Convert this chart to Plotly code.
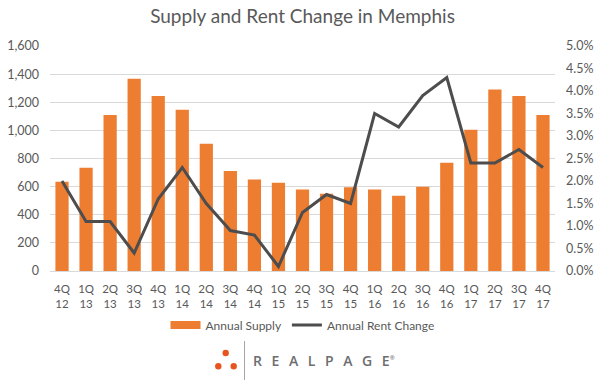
import plotly.graph_objects as go

categories = ["4Q<br>12","1Q<br>13","2Q<br>13","3Q<br>13","4Q<br>13","1Q<br>14","2Q<br>14","3Q<br>14","4Q<br>14",
              "1Q<br>15","2Q<br>15","3Q<br>15","4Q<br>15","1Q<br>16","2Q<br>16","3Q<br>16","4Q<br>16",
              "1Q<br>17","2Q<br>17","3Q<br>17","4Q<br>17"]
annual_supply = [635,735,1110,1368,1245,1147,905,712,650,628,580,550,595,580,535,600,770,1005,1290,1245,1110]
annual_rent_change = [2.0,1.1,1.1,0.4,1.6,2.3,1.5,0.9,0.8,0.1,1.3,1.7,1.5,3.5,3.2,3.9,4.3,2.4,2.4,2.7,2.3]
y_ticks = [0,200,400,600,800,1000,1200,1400,1600]
y2_ticks = [0,0.5,1,1.5,2,2.5,3,3.5,4,4.5,5]
y2_labels = ["0.0%","0.5%","1.0%","1.5%","2.0%","2.5%","3.0%","3.5%","4.0%","4.5%","5.0%"]

FONT = "Lato"
TXT = "#595959"
ORANGE = "#ED7D31"
NB = "\u00a0"
logo_text = (NB*2 + "\u2009").join("REALPAGE") + "<sup><span style='font-size:6px'>®</span></sup>"

fig = go.Figure()
# legend key: the reference draws a wide flat swatch for the bars
fig.add_trace(go.Scatter(x=[None], y=[None], mode="lines", name="Annual Supply",
                         line=dict(color=ORANGE, width=8), yaxis="y"))
fig.add_trace(go.Bar(x=categories, y=annual_supply, name="Annual Supply", showlegend=False,
                     marker=dict(color=ORANGE, line=dict(width=0)), yaxis="y"))
fig.add_trace(go.Scatter(x=categories, y=annual_rent_change, name="Annual Rent Change", mode="lines",
                         line=dict(color="#4D4D4D", width=3), yaxis="y2"))
fig.update_layout(
    width=609, height=386, autosize=False,
    paper_bgcolor="white", plot_bgcolor="white",
    margin=dict(l=50, r=54, t=46, b=115, autoexpand=False),
    font=dict(family=FONT, size=12, color=TXT),
    bargap=0.45,
    title=dict(text="Supply and Rent Change in Memphis", x=302.5/609, xanchor="center",
               y=1-16/386, yanchor="middle", automargin=False,
               font=dict(family=FONT, size=19, color=TXT)),
    xaxis=dict(type="category", showgrid=False, showline=True, linecolor="#D9D9D9", linewidth=1, ticks="",
               tickfont=dict(size=11.5, color=TXT), tickangle=0, ticklabelstandoff=7, automargin=False),
    yaxis=dict(range=[0,1600], tickvals=y_ticks, tickformat=",d", showgrid=True, gridcolor="#D9D9D9", gridwidth=1,
               zeroline=False, showline=False, ticks="", tickfont=dict(size=12.5, color=TXT),
               ticklabelstandoff=10, automargin=False),
    yaxis2=dict(range=[0,5], tickmode="array", tickvals=y2_ticks, ticktext=y2_labels, overlaying="y", side="right",
                showgrid=False, zeroline=False, showline=False, ticks="", tickfont=dict(size=12.5, color=TXT),
                ticklabelstandoff=10, automargin=False),
    legend=dict(orientation="h", x=0.5, xanchor="center", y=-0.24, yanchor="middle",
                font=dict(size=12, color=TXT), traceorder="normal", itemwidth=30),
    annotations=[dict(text=logo_text, xref="paper", yref="paper", x=(251-50)/505, y=(271-360)/225,
                      xanchor="left", yanchor="middle", showarrow=False,
                      font=dict(family="Open Sans", size=14, color="#6D6E71", weight=600))],
    shapes=[dict(type="line", xref="paper", yref="paper", x0=(244.5-50)/505, x1=(244.5-50)/505,
                 y0=(271-341)/225, y1=(271-380)/225, line=dict(color="#A6A6A6", width=1))] + [
        dict(type="circle", xref="paper", yref="paper", x0=(cx-3.2-50)/505, x1=(cx+3.2-50)/505,
             y0=(271-cy-3.2)/225, y1=(271-cy+3.2)/225, fillcolor="#E8541E", line=dict(width=0))
        for cx, cy in [(225.7,353),(218.3,366.3),(233.7,366.3)]
    ],
)
fig.write_html("out.html", post_script="document.body.style.margin='0';", config={"displayModeBar": False})
